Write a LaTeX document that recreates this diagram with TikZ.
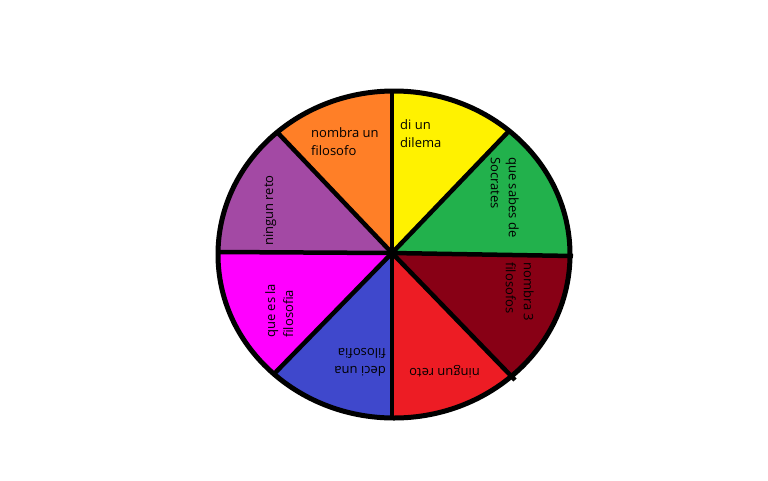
\documentclass[tikz,border=0pt]{standalone}
\usepackage{fontspec}
\setmainfont{Open Sans}
\usetikzlibrary{calc}
\definecolor{cOrange}{HTML}{FF7F27}
\definecolor{cYellow}{HTML}{FFF200}
\definecolor{cGreen}{HTML}{22B14C}
\definecolor{cDarkRed}{HTML}{880015}
\definecolor{cRed}{HTML}{ED1C24}
\definecolor{cBlue}{HTML}{3F48CC}
\definecolor{cMagenta}{HTML}{FF00FF}
\definecolor{cPurple}{HTML}{A349A4}
\begin{document}
\begin{tikzpicture}[x=1pt,y=-1pt,
  spoke/.style={line width=4.5pt},
  rim/.style={line width=5pt},
  lbl/.style={font=\fontsize{13}{18}\selectfont, inner sep=0pt, align=left, text=black}]
\useasboundingbox (0,0) rectangle (768,480);
\coordinate (c) at (392,253);
\coordinate (T) at (392,91);
\coordinate (UR) at (508,132);
\coordinate (R) at (573,256);
\coordinate (LR) at (515,380);
\coordinate (B) at (392,420);
\coordinate (LL) at (273,375);
\coordinate (L) at (217,252);
\coordinate (UL) at (277,132);
\coordinate (ec) at (394,254.5);
\begin{scope}
  \clip (ec) ellipse [x radius=176pt, y radius=163.5pt];
  \fill[cOrange]  (c) -- ($(c)!2!(UL)$) -- ($(c)!2!(T)$) -- cycle;
  \fill[cYellow]  (c) -- ($(c)!2!(T)$) -- ($(c)!2!(UR)$) -- cycle;
  \fill[cGreen]   (c) -- ($(c)!2!(UR)$) -- ($(c)!2!(R)$) -- cycle;
  \fill[cDarkRed] (c) -- ($(c)!2!(R)$) -- ($(c)!2!(LR)$) -- cycle;
  \fill[cRed]     (c) -- ($(c)!2!(LR)$) -- ($(c)!2!(B)$) -- cycle;
  \fill[cBlue]    (c) -- ($(c)!2!(B)$) -- ($(c)!2!(LL)$) -- cycle;
  \fill[cMagenta] (c) -- ($(c)!2!(LL)$) -- ($(c)!2!(L)$) -- cycle;
  \fill[cPurple]  (c) -- ($(c)!2!(L)$) -- ($(c)!2!(UL)$) -- cycle;
\end{scope}
\draw[rim] (ec) ellipse [x radius=176pt, y radius=163.5pt];
\foreach \p in {T,UR,R,LR,B,LL,L,UL} \draw[spoke] (c) -- (\p);
\node[lbl, anchor=north west] (t1) at (311,127) {nombra un\\filosofo};
\node[lbl, anchor=north west] (t2) at (400,119) {di un\\dilema};
\node[lbl, anchor=north west, rotate=-90] (t3) at (519,157) {que sabes de\\Socrates};
\node[lbl, anchor=north west, rotate=-90] (t4) at (534,262) {nombra 3\\filosofos};
\node[lbl, anchor=base west, rotate=180] (t5) at (480,368) {ningun reto};
\node[lbl, anchor=north west, rotate=180] (t6) at (386,377) {deci una\\filosofia};
\node[lbl, anchor=north west, rotate=90] (t7) at (265,338) {que es la\\filosofia};
\node[lbl, anchor=base west, rotate=90] (t8) at (273,246) {ningun reto};
\end{tikzpicture}
\end{document}
